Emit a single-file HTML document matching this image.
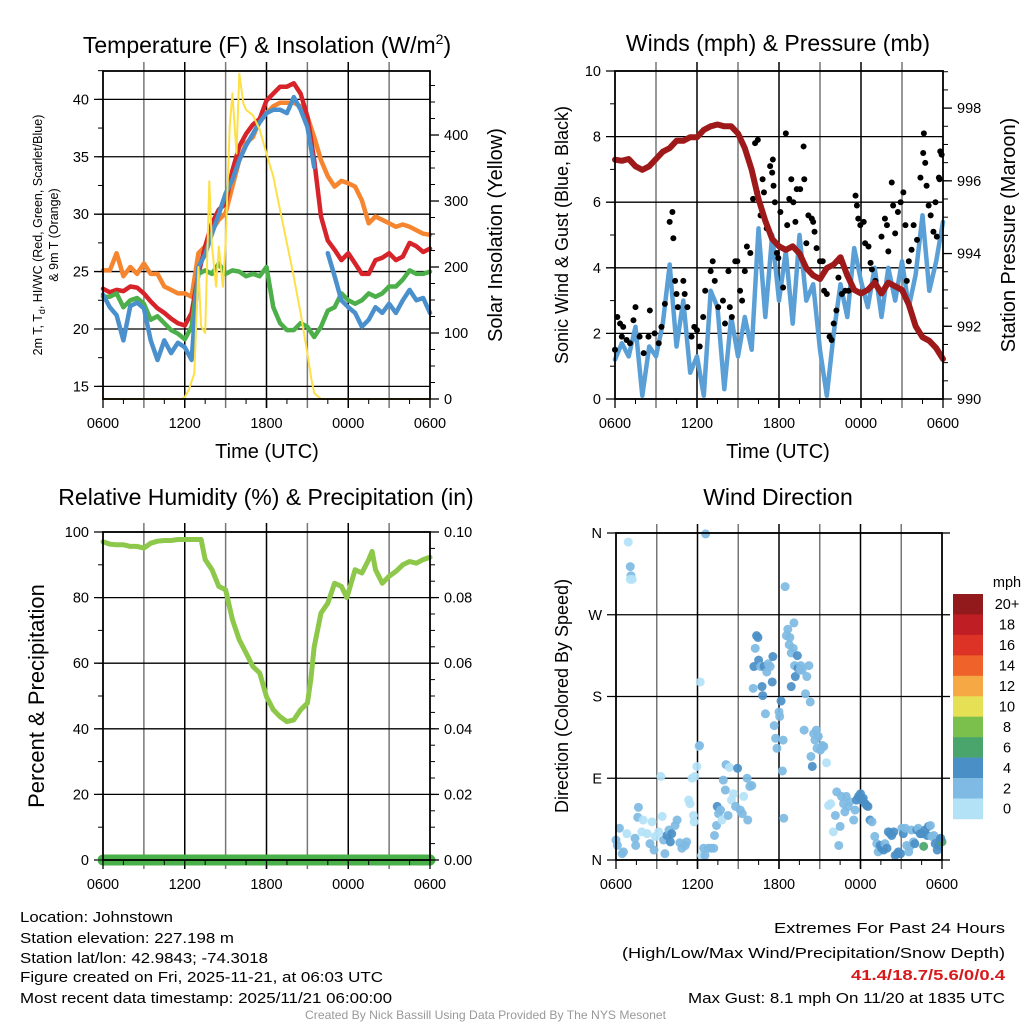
<!DOCTYPE html>
<html><head><meta charset="utf-8">
<style>
html,body{margin:0;padding:0;background:#fff;}
svg{display:block;font-family:"Liberation Sans",sans-serif;}
</style></head>
<body>
<svg id="chart" width="1024" height="1024" viewBox="0 0 1024 1024" xmlns="http://www.w3.org/2000/svg">
<rect width="1024" height="1024" fill="#fff"/>
<g id="grids"></g>
<g id="series"></g>
<g id="frames"></g>
<text x="267" y="53" font-size="23" text-anchor="middle">Temperature (F) &amp; Insolation (W/m<tspan font-size="14" dy="-9">2</tspan><tspan dy="9">)</tspan></text>
<text x="778" y="51" font-size="23" text-anchor="middle">Winds (mph) &amp; Pressure (mb)</text>
<text x="266" y="505" font-size="23" text-anchor="middle">Relative Humidity (%) &amp; Precipitation (in)</text>
<text x="778" y="505" font-size="23" text-anchor="middle">Wind Direction</text>
<text x="267" y="458" font-size="20" text-anchor="middle">Time (UTC)</text>
<text x="778" y="458" font-size="20" text-anchor="middle">Time (UTC)</text>
<text transform="translate(42,235) rotate(-90)" font-size="12.5" text-anchor="middle">2m T, T<tspan font-size="9" dy="3">d</tspan><tspan dy="-3">, HI/WC (Red, Green, Scarlet/Blue)</tspan></text>
<text transform="translate(58,235) rotate(-90)" font-size="12.5" text-anchor="middle">&amp; 9m T (Orange)</text>
<text transform="translate(502,235) rotate(-90)" font-size="20" text-anchor="middle">Solar Insolation (Yellow)</text>
<text transform="translate(568,235) rotate(-90)" font-size="18" text-anchor="middle">Sonic Wind &amp; Gust (Blue, Black)</text>
<text transform="translate(1015,235) rotate(-90)" font-size="20" text-anchor="middle">Station Pressure (Maroon)</text>
<text transform="translate(44,696) rotate(-90)" font-size="22" text-anchor="middle">Percent &amp; Precipitation</text>
<text transform="translate(568,696) rotate(-90)" font-size="18" text-anchor="middle">Direction (Colored By Speed)</text>
<g id="colorbar"></g>
<g font-size="15">
<text x="20" y="922" textLength="153" lengthAdjust="spacingAndGlyphs">Location: Johnstown</text>
<text x="20" y="943" textLength="214" lengthAdjust="spacingAndGlyphs">Station elevation: 227.198 m</text>
<text x="20" y="963" textLength="248" lengthAdjust="spacingAndGlyphs">Station lat/lon: 42.9843; -74.3018</text>
<text x="20" y="982" textLength="363" lengthAdjust="spacingAndGlyphs">Figure created on Fri, 2025-11-21, at 06:03 UTC</text>
<text x="20" y="1003" textLength="372" lengthAdjust="spacingAndGlyphs">Most recent data timestamp: 2025/11/21 06:00:00</text>
</g>
<g font-size="15">
<text x="774" y="933" textLength="231" lengthAdjust="spacingAndGlyphs">Extremes For Past 24 Hours</text>
<text x="622" y="958" textLength="383" lengthAdjust="spacingAndGlyphs">(High/Low/Max Wind/Precipitation/Snow Depth)</text>
<text x="851" y="980" textLength="154" lengthAdjust="spacingAndGlyphs" fill="#d7191c" font-weight="bold">41.4/18.7/5.6/0/0.4</text>
<text x="688" y="1003" textLength="317" lengthAdjust="spacingAndGlyphs">Max Gust: 8.1 mph On 11/20 at 1835 UTC</text>
</g>
<text x="305" y="1019" textLength="361" lengthAdjust="spacingAndGlyphs" font-size="12" fill="#999">Created By Nick Bassill Using Data Provided By The NYS Mesonet</text>
</svg>
<script>
const hours = [0,0.5,1,1.5,2,2.5,3,3.5,4,4.5,5,5.5,6,6.5,7,7.5,8,8.5,9,9.5,10,10.5,11,11.5,12,12.5,13,13.5,14,14.5,15,15.5,16,16.5,17,17.5,18,18.5,19,19.5,20,20.5,21,21.5,22,22.5,23,23.5,24];
const tempRed = [23.5,23.2,23.4,23.3,23.7,23.6,23.1,22.4,21.8,21.4,20.9,20.5,20.3,21.4,24.8,27.2,29.2,30.4,30.9,33.8,35.9,37.0,37.8,38.3,39.9,40.5,41.1,41.1,41.4,40.5,38.5,34.7,29.8,27.7,26.9,26.0,26.6,25.7,24.8,24.8,26.0,26.2,26.6,26.0,26.3,27.5,27.2,26.7,27.0];
const tempOrange = [25.1,25.1,26.6,24.6,25.4,24.8,25.7,24.8,24.8,23.7,23.4,23.1,23.1,22.8,26.6,27.2,28.6,29.5,30.1,32.4,34.7,36.2,36.7,38.2,38.8,39.4,39.7,39.7,39.7,39.4,38.5,36.7,34.7,33.3,32.4,32.9,32.7,32.4,31.2,29.2,29.8,29.5,29.2,28.9,29.1,28.9,28.6,28.3,28.2];
const dewGreen = [22.8,22.8,23.1,21.9,22.5,22.7,22.2,20.8,21.1,20.5,19.9,19.6,19.1,20.2,24.8,25.1,24.8,25.7,24.8,25.1,25.0,24.6,24.8,24.6,25.4,21.9,20.5,19.9,19.9,20.5,20.2,19.3,20.2,21.6,21.9,23.1,22.5,22.2,22.5,23.1,22.8,23.1,23.7,23.7,24.3,25.1,24.8,24.8,25.0];
const chillBlue = [23.0,21.9,21.2,19.0,22.0,22.3,21.8,19.0,17.3,19.0,17.9,18.8,18.4,17.3,25.4,26.5,28.3,30.0,31.8,33.0,34.7,36.0,37.0,38.0,38.8,39.1,39.1,38.8,40.2,39.1,37.6,34.1,null,26.6,24.6,22.5,21.9,21.4,20.2,20.8,21.9,21.4,22.2,21.4,22.5,23.4,22.5,22.7,21.4];
const solarHours = [0,5.8,6,6.3,6.7,7,7.2,7.5,7.8,8,8.3,8.5,8.8,9,9.3,9.5,9.8,10,10.3,10.5,11,11.5,12,12.5,13,13.5,14,14.5,15,15.3,15.5,16,24];
const solarValues = [0,0,3,14,39,200,110,100,330,231,170,231,170,236,413,463,372,493,448,438,430,408,372,337,286,236,185,130,69,29,9,0,0];
const pressure = [996.58,996.55,996.6,996.4,996.3,996.4,996.6,996.8,996.9,997.1,997.1,997.2,997.2,997.4,997.5,997.55,997.5,997.5,997.3,996.9,996.3,995.5,994.9,994.4,994.2,994.1,994.2,994.0,993.6,993.4,993.3,993.6,993.7,993.9,993.4,993.0,992.9,993.0,993.2,992.9,993.2,993.1,993.0,992.6,992.0,991.7,991.6,991.4,991.1];
const windSpeed = [1.2,1.7,1.3,2.2,0.1,1.6,1.3,2.3,4.1,1.6,3.0,0.8,1.3,0.1,3.3,2.8,0.3,2.5,1.3,2.5,1.5,5.2,2.5,5.0,3.0,4.5,2.3,5.0,3.0,3.5,1.5,0.1,2.0,3.5,2.5,4.6,3.6,2.8,4.0,2.5,4.0,3.0,4.2,2.8,3.8,5.6,3.3,4.2,5.4];
const gustHours = [0,0.17,0.37,0.5,0.6,0.85,1.1,1.35,1.5,1.8,2.1,2.45,2.55,2.9,3.2,3.4,3.65,4.0,4.2,4.27,4.4,4.5,4.6,5.0,5.1,5.3,5.6,5.8,6.0,6.2,6.45,6.6,7.0,7.15,7.3,7.55,7.9,8.05,8.3,8.4,8.55,8.8,8.95,9.15,9.3,9.5,9.65,9.9,10.1,10.25,10.4,10.45,10.65,10.8,10.9,11.1,11.35,11.5,11.55,11.6,11.7,11.85,11.95,12.1,12.3,12.5,12.6,12.75,12.9,13.05,13.2,13.3,13.55,13.8,13.85,14.0,14.15,14.4,14.5,14.6,14.75,15.0,15.2,15.3,15.5,15.7,15.85,16.0,16.2,16.35,16.5,16.6,16.85,17.1,17.2,17.6,17.7,17.8,17.95,18.2,18.3,18.55,18.7,18.8,19.05,19.5,19.75,19.9,20.0,20.25,20.35,20.5,20.7,20.9,21.1,21.25,21.35,21.5,21.7,21.85,22.1,22.35,22.55,22.6,22.7,22.8,22.95,23.1,23.3,23.45,23.55,23.7,23.75,23.8,23.9];
const gustValues = [1.5,2.5,2.3,1.9,2.2,1.8,1.7,2.4,2.8,1.9,1.4,1.9,2.7,2.0,1.7,2.2,2.9,5.4,5.7,4.9,3.6,3.2,2.8,3.6,3.2,2.8,1.9,2.2,2.1,1.6,2.5,3.3,3.9,4.2,3.6,2.8,3.0,2.3,3.9,2.8,2.5,4.2,4.2,3.3,3.0,3.9,4.65,4.45,6.1,7.8,6.3,7.9,5.6,6.7,6.3,5.2,7.1,6.9,7.3,6.5,6.0,4.45,4.3,5.7,3.4,8.1,5.3,6.1,6.7,6.0,5.4,6.4,6.4,7.7,6.7,4.75,5.6,5.5,5.4,5.1,4.6,4.2,4.2,3.3,3.2,1.9,1.8,2.3,2.7,3.7,4.2,3.2,3.3,3.3,3.6,6.2,5.9,5.5,5.3,5.4,4.75,4.65,4.15,3.95,3.6,4.95,5.5,5.3,4.5,6.6,5.9,5.05,5.7,6.0,6.3,5.3,3.6,4.2,4.55,5.3,4.85,6.75,7.5,8.1,7.2,6.5,5.9,5.6,5.1,6.0,4.95,6.75,6.7,7.55,7.45];
const rhHours = [0,0.5,1,1.5,2,2.5,3,3.5,4,4.5,5,5.5,6,6.5,7,7.2,7.5,8,8.5,9,9.5,10,10.5,11,11.5,12,12.5,13,13.5,14,14.5,15,15.25,15.5,16,16.5,17,17.5,17.9,18.5,19,19.5,19.75,20,20.5,21,21.5,22,22.5,23,23.5,24];
const rhValues = [97,96.3,96.1,96.1,95.6,95.6,95.1,96.6,97.2,97.4,97.4,97.7,97.7,97.7,97.7,97.7,91.6,88.5,83.4,82.4,73.3,67.1,63.1,59.0,57.0,49.8,45.8,43.7,42.2,42.7,45.8,47.8,55,65,75.3,78.3,84.4,83.4,80.0,88.5,87.5,91.6,94.1,88.5,84.4,86.5,88.0,90.0,91.0,90.5,91.6,92.3];
const precipValues = [0,0,0,0,0,0,0,0,0,0,0,0,0,0,0,0,0,0,0,0,0,0,0,0,0,0,0,0,0,0,0,0,0,0,0,0,0,0,0,0,0,0,0,0,0,0,0,0,0];
const dirHours = [0,0.25,0.1,0.45,0.55,0.8,0.9,1.05,1.1,1.05,1.2,1.4,1.45,1.6,1.65,1.9,2.0,2.3,2.5,2.65,2.8,2.9,3.15,3.3,3.4,3.5,3.6,3.75,3.9,4.0,4.1,4.35,4.5,4.7,4.85,5.1,5.2,5.35,5.45,5.6,5.7,5.75,5.8,5.95,6.1,6.15,6.2,6.3,6.45,6.55,6.6,6.8,7.0,7.2,7.25,7.4,7.45,7.55,7.7,7.8,7.9,8.05,8.1,8.25,8.35,8.5,8.65,8.8,8.95,9.15,9.3,9.4,9.65,9.7,9.85,10.0,
10.1,10.15,10.25,10.35,10.45,10.5,10.65,10.75,10.8,10.9,11.0,11.1,11.2,11.35,11.5,11.55,11.65,11.75,11.85,12.0,12.05,12.15,12.3,12.25,12.35,12.45,12.55,12.65,12.75,12.8,12.9,12.9,13.05,13.1,13.15,13.2,13.35,13.4,13.55,13.6,13.7,13.85,13.95,14.05,14.2,14.3,14.35,14.45,14.55,14.65,14.75,14.8,14.9,15.05,15.2,15.3,15.5,
15.65,15.8,16.0,16.15,16.25,16.4,16.5,16.6,16.75,16.85,16.95,17.1,17.2,17.5,17.6,17.7,17.85,18.0,18.1,18.2,18.35,18.45,18.55,18.7,18.85,19.05,19.2,19.3,19.45,19.55,19.7,19.8,19.95,20.05,20.2,20.3,20.45,20.55,20.7,20.8,20.95,21.05,21.15,21.3,21.4,21.55,21.65,21.75,21.9,22.0,22.15,22.25,22.4,22.5,22.65,22.75,22.9,23.0,23.15,23.25,23.4,23.5,23.65,23.75,23.85,24.0,23.9];
const dirDegrees = [22,35,16,7,9,29,350,323,313,309,309,24,16,47,58,31,44,29,18,42,11,26,31,92,48,22,7,27,33,20,29,38,44,19,13,16,20,66,62,90,49,42,92,103,125,126,196,5,13,5,359,13,13,13,27,38,59,51,55,44,88,77,105,49,102,66,73,59,101,55,51,70,90,44,81,82,
189,213,233,247,245,220,213,191,181,213,161,207,216,213,196,224,148,134,123,163,158,175,132,98,46,301,247,254,237,245,228,191,233,261,214,202,225,211,209,214,209,143,183,202,214,174,114,103,139,132,143,123,136,121,126,125,107,
60,62,31,49,75,16,37,70,62,53,70,59,64,44,55,66,70,73,66,68,62,60,59,44,42,26,18,9,16,13,11,18,13,31,29,27,31,5,7,9,7,35,29,35,16,9,15,33,20,18,33,35,29,29,15,33,27,37,38,26,27,18,11,16,22,20,24];
const dirSpeeds = [3,3,3,3,3,1,1,3,3,1,1,3,3,3,3,1,1,1,3,1,3,1,1,1,1,3,3,5,3,5,5,3,3,3,3,3,3,1,1,1,1,1,1,1,1,3,1,1,3,3,3,3,3,3,3,3,5,3,3,1,3,3,3,3,1,1,1,3,5,3,3,1,3,3,3,3,
3,5,3,5,5,5,3,5,5,5,3,3,3,3,5,5,3,3,3,3,3,5,3,3,3,3,3,3,3,3,3,5,3,3,3,5,5,5,3,3,3,3,3,3,3,3,3,5,3,3,3,3,3,3,3,3,1,
1,1,1,3,3,3,3,3,3,3,3,3,3,3,3,5,5,5,5,5,5,5,5,5,3,3,3,3,5,5,5,3,5,5,5,5,5,5,5,5,5,3,5,3,3,3,3,3,3,5,5,3,5,5,7,5,5,5,3,3,3,5,5,5,5,7,5];
const xTickLabels = ["0600","1200","1800","0000","0600"];
const tempTicks = [15,20,25,30,35,40];
const solarTicks = [0,100,200,300,400];
const windTicks = [0,2,4,6,8,10];
const pressureTicks = [990,992,994,996,998];
const rhTicks = [0,20,40,60,80,100];
const precipTicks = ["0.00","0.02","0.04","0.06","0.08","0.10"];
const dirTicks = ["N","E","S","W","N"];
const cbLabels = ["20+","18","16","14","12","10","8","6","4","2","0"];
const cbColors = ["#921a1c","#bf1e24","#dd3327","#ef622a","#f5a844","#e6e055","#7bbf4c","#4aa56c","#4a8fc6","#7ebae3","#b3e2f7"];

const NS = "http://www.w3.org/2000/svg";
function mk(tag, attrs, parent) {
  const e = document.createElementNS(NS, tag);
  for (const k in attrs) e.setAttribute(k, attrs[k]);
  parent.appendChild(e);
  return e;
}
const G = document.getElementById('grids'), S = document.getElementById('series'), F = document.getElementById('frames');
function lin(d0, d1, r0, r1) { return v => r0 + (v - d0) * (r1 - r0) / (d1 - d0); }

const P = {
  temp: {x0:103, x1:430, y0:71, y1:399},
  wind: {x0:615, x1:943, y0:71, y1:399},
  rh:   {x0:103, x1:430, y0:532, y1:860},
  dir:  {x0:616, x1:942, y0:533, y1:860}
};
for (const k in P) P[k].x = lin(0, 24, P[k].x0, P[k].x1);
const yTemp = lin(13.9, 42.47, 399, 71);
const ySolar = lin(0, 497, 399, 71);
const yWind = lin(0, 10, 399, 71);
const yPres = lin(990, 999.02, 399, 71);
const yRh = lin(0, 100, 860, 532);
const yPrecip = lin(0, 0.1, 860, 532);
const yDir = lin(0, 360, 860, 533);

function minor(p, yf, a, b, step, side) {
  for (let v = a; v <= b + 1e-9; v += step) {
    const y = yf(v);
    if (y < p.y0 - 0.5 || y > p.y1 + 0.5) continue;
    if (side === 'l') mk('line', {x1:p.x0-5, x2:p.x0, y1:y, y2:y, stroke:'#000', 'stroke-width':1}, F);
    else mk('line', {x1:p.x1, x2:p.x1+5, y1:y, y2:y, stroke:'#000', 'stroke-width':1}, F);
  }
}

function frame(p, name, leftTicks, leftY, leftLab, rightTicks, rightY, rightLab, hasRight) {
  for (let h = 3; h < 24; h += 3) {
    const ln = mk('line', {x1:p.x(h), x2:p.x(h), y1:p.y0-9, y2:p.y1+9, stroke: (h % 6 === 0) ? '#000' : '#777', 'stroke-width':1.5}, G);
    
    
  }
  for (let h = 1.5; h < 24; h += 3) mk('line', {x1:p.x(h), x2:p.x(h), y1:p.y1, y2:p.y1+5, stroke:'#000', 'stroke-width':1}, F);
  leftTicks.forEach((v, i) => {
    const y = leftY(v);
    const ln = mk('line', {x1:p.x0-9, x2:p.x1, y1:y, y2:y, stroke:'#000', 'stroke-width':1.3}, G);
    
    
    const t = mk('text', {x:p.x0-14, y:y+5, 'font-size':14.5, 'text-anchor':'end'}, F);
    t.textContent = leftLab ? leftLab[i] : v;
    
    
  });
  if (hasRight) rightTicks.forEach((v, i) => {
    const y = rightY(v);
    mk('line', {x1:p.x1, x2:p.x1+9, y1:y, y2:y, stroke:'#000', 'stroke-width':1.3}, F);
    const t = mk('text', {x:p.x1+14, y:y+5, 'font-size':14.5}, F);
    t.textContent = rightLab ? rightLab[i] : v;
    
    
  });
  xTickLabels.forEach((s, i) => {
    const x = p.x(i * 6);
    mk('line', {x1:x, x2:x, y1:p.y1, y2:p.y1+9, stroke:'#000', 'stroke-width':1.3}, F);
    const t = mk('text', {x:x, y:p.y1+29, 'font-size':14.5, 'text-anchor':'middle'}, F);
    t.textContent = s;
    
    
  });
  const r = mk('rect', {x:p.x0, y:p.y0, width:p.x1-p.x0, height:p.y1-p.y0, fill:'none', stroke:'#000', 'stroke-width':1.8}, F);
  
  
}

function line(xs, ys, p, yf, color, w, name) {
  let d = '', pen = false;
  for (let i = 0; i < ys.length; i++) {
    if (ys[i] === null) { pen = false; continue; }
    d += (pen ? 'L' : 'M') + p.x(xs[i]).toFixed(1) + ',' + yf(ys[i]).toFixed(1);
    pen = true;
  }
  const e = mk('path', {d:d, fill:'none', stroke:color, 'stroke-width':w, 'stroke-linejoin':'round', 'stroke-linecap':'round'}, S);
  
  
  return e;
}

// panel 1
frame(P.temp, 'temp', tempTicks, yTemp, null, solarTicks, ySolar, null, true);
minor(P.temp, yTemp, 12.5, 42.5, 2.5, 'l');
minor(P.temp, ySolar, 0, 500, 25, 'r');
line(hours, tempOrange, P.temp, yTemp, '#f5862f', 4.5, 'nine-meter-temp-line');
line(hours, tempRed, P.temp, yTemp, '#d7242a', 4.5, 'two-meter-temp-line');
line(hours, dewGreen, P.temp, yTemp, '#4daf4a', 4.5, 'dewpoint-line');
line(hours, chillBlue, P.temp, yTemp, '#4a90cc', 4.5, 'heat-index-wind-chill-line');
line(solarHours, solarValues, P.temp, ySolar, '#fde047', 2, 'solar-insolation-line');

// panel 2
frame(P.wind, 'wind', windTicks, yWind, null, pressureTicks, yPres, null, true);
minor(P.wind, yWind, 0, 10, 1, 'l');
minor(P.wind, yPres, 990, 999, 0.5, 'r');
line(hours, windSpeed, P.wind, yWind, '#5aa0d6', 4.5, 'sonic-wind-line');
gustHours.forEach((h, i) => {
  const c = mk('circle', {cx:P.wind.x(h), cy:yWind(gustValues[i]), r:3, fill:'#000'}, S);
  
  
});
line(hours, pressure, P.wind, yPres, '#9e1a1a', 6, 'station-pressure-line');

// panel 3
frame(P.rh, 'rh', rhTicks, yRh, null, [0,0.02,0.04,0.06,0.08,0.1], yPrecip, precipTicks, true);
minor(P.rh, yRh, 0, 100, 10, 'l');
minor(P.rh, yPrecip, 0, 0.1, 0.005, 'r');
line(rhHours, rhValues, P.rh, yRh, '#8dc84a', 5, 'relative-humidity-line');
line(hours, precipValues, P.rh, yPrecip, '#49b049', 11, 'precipitation-line');

// panel 4
frame(P.dir, 'dir', [0,90,180,270,360], yDir, dirTicks, [], null, null, false);
[0,90,180,270,360].forEach(v => { mk('line', {x1:942, x2:950, y1:yDir(v), y2:yDir(v), stroke:'#000', 'stroke-width':1.3}, F); });
const spdColor = s => s < 2 ? '#b3e2f7' : s < 4 ? '#7ebae3' : s < 6 ? '#4a8fc6' : '#4aa56c';
dirHours.forEach((h, i) => {
  const c = mk('circle', {cx:P.dir.x(h), cy:yDir(dirDegrees[i]), r:4.5, fill:spdColor(dirSpeeds[i]), 'fill-opacity':0.92}, S);
  
  
});

// colorbar
const CB = document.getElementById('colorbar');
const cbTop = 594, cbH = 20.45;
cbColors.forEach((col, i) => {
  const r = mk('rect', {x:953, y:cbTop + i*cbH, width:30, height:cbH+0.3, fill:col}, CB);
  
  
  const t = mk('text', {x:1007, y:cbTop + i*cbH + cbH/2 + 5, 'font-size':14.5, 'text-anchor':'middle'}, CB);
  t.textContent = cbLabels[i];
  
  
});
const mph = mk('text', {x:1007, y:587, 'font-size':14.5, 'text-anchor':'middle'}, CB);
mph.textContent = 'mph';


</script>
</body></html>
